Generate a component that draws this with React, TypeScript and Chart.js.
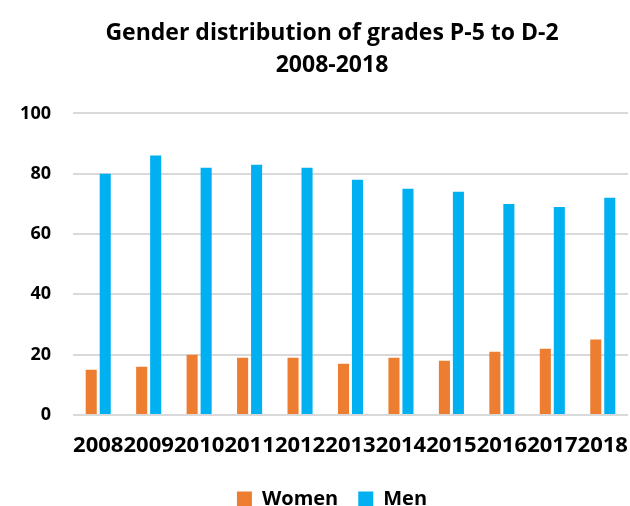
import React, { useEffect, useRef } from "react";
import { Chart, registerables } from "chart.js";

Chart.register(...registerables);

const years = ["2008", "2009", "2010", "2011", "2012", "2013", "2014", "2015", "2016", "2017", "2018"];
const women = [15, 16, 20, 19, 19, 17, 19, 18, 21, 22, 25];
const men = [80, 86, 82, 83, 82, 78, 75, 74, 70, 69, 72];
const titleLines = ["Gender distribution of grades P-5 to D-2", "2008-2018"];

const FONT = "'Open Sans', sans-serif";

export default function App() {
  const ref = useRef<HTMLCanvasElement | null>(null);

  useEffect(() => {
    document.body.style.margin = "0";
    const canvas = ref.current;
    if (!canvas) return;
    const chart = new Chart(canvas, {
      type: "bar",
      data: {
        labels: years,
        datasets: [
          {
            label: "Women",
            data: women,
            backgroundColor: "#ED7D31",
            barPercentage: 0.79,
            categoryPercentage: 0.555,
          },
          {
            label: "Men",
            data: men,
            backgroundColor: "#00B0F0",
            barPercentage: 0.79,
            categoryPercentage: 0.555,
          },
        ],
      },
      options: {
        responsive: false,
        animation: false,
        layout: { padding: { left: 0, right: -34, top: 17, bottom: -13 } },
        plugins: {
          title: {
            display: true,
            text: titleLines,
            color: "#000",
            font: { family: FONT, size: 23, weight: "bold", lineHeight: 1.4 },
            padding: { top: 0, bottom: 32 },
          },
          legend: {
            position: "bottom",
            labels: {
              color: "#000",
              font: { family: FONT, size: 20, weight: "bold" },
              boxWidth: 15,
              boxHeight: 15,
              padding: 20,
            },
          },
          tooltip: { enabled: false },
        },
        scales: {
          x: {
            grid: { display: false, drawTicks: false },
            border: { display: false },
            afterFit: (scale: any) => {
              scale.height = 54;
            },
            ticks: {
              color: "#000",
              font: { family: FONT, size: 22, weight: "bold", lineHeight: 2.8 },
              maxRotation: 0,
              minRotation: 0,
              autoSkip: false,
              padding: 0,
            },
          },
          y: {
            min: 0,
            max: 100,
            grid: { color: "#d9d9d9", lineWidth: 2, drawTicks: false },
            border: { display: false },
            afterFit: (scale: any) => {
              scale.width = 73;
            },
            ticks: {
              stepSize: 20,
              color: "#000",
              font: { family: FONT, size: 18, weight: "bold" },
              padding: 22,
            },
          },
          spacer: {
            type: "linear",
            position: "right",
            display: true,
            grid: { display: false, drawTicks: false },
            border: { display: false },
            ticks: { display: false },
            afterFit: (scale: any) => {
              scale.width = 36;
            },
          },
        },
      },
    });
    return () => chart.destroy();
  }, []);

  return (
    <div style={{ width: 630, height: 506 }}>
      <canvas ref={ref} width={630} height={506} />
    </div>
  );
}
